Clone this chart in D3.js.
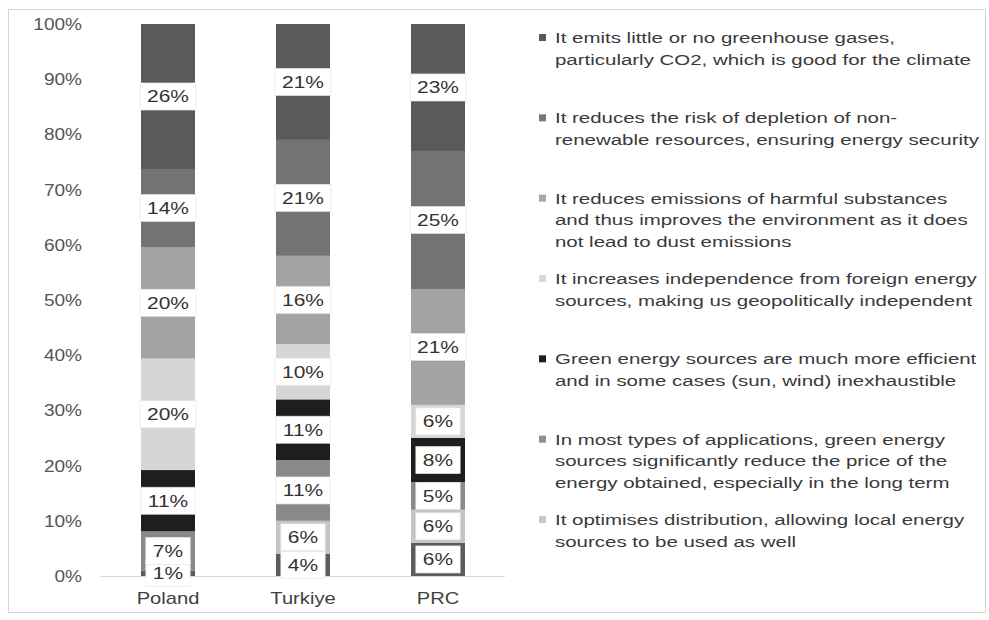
<!DOCTYPE html>
<html>
<head>
<meta charset="utf-8">
<script src="https://cdn.jsdelivr.net/npm/d3@7"></script>
<style>
  body { margin: 0; background: #fff; }
  svg { display: block; }
  text { font-family: "Liberation Sans", Arial, sans-serif; }
</style>
</head>
<body>
<svg id="chart" width="989" height="620"></svg>
<script>
// Countries on the x axis
const countries = ["Poland", "Turkiye", "PRC"];

// Share of answers per reason (top segment first), in %
const poland  = [26, 14, 20, 20, 11, 7, 0, 1];
const turkiye = [21, 21, 16, 10, 11, 11, 6, 4];
const prc     = [23, 25, 21, 6, 8, 5, 6, 6];

// Legend texts (one entry per reason, split into lines)
const reasons = [
  ["It emits little or no greenhouse gases,", "particularly CO2, which is good for the climate"],
  ["It reduces the risk of depletion of non-", "renewable resources, ensuring energy security"],
  ["It reduces emissions of harmful substances", "and thus improves the environment as it does", "not lead to dust emissions"],
  ["It increases independence from foreign energy", "sources, making us geopolitically independent"],
  ["Green energy sources are much more efficient", "and in some cases (sun, wind) inexhaustible"],
  ["In most types of applications, green energy", "sources significantly reduce the price of the", "energy obtained, especially in the long term"],
  ["It optimises distribution, allowing local energy", "sources to be used as well"]
];

// Y axis ticks
const yTicks = [0, 0.1, 0.2, 0.3, 0.4, 0.5, 0.6, 0.7, 0.8, 0.9, 1];

// Fill per series (same order as the values)
const colors = ["#5a5a5a", "#737373", "#a3a3a3", "#d6d6d6", "#1e1e1e", "#8a8a8a", "#c4c4c4", "#5c5c5c"];
const legendColors = ["#5a5a5a", "#787878", "#a8a8a8", "#d8d8d8", "#1e1e1e", "#8f8f8f", "#c8c8c8"];

const values = [poland, turkiye, prc];
const nSeries = poland.length;

const svg = d3.select("#chart");

// outer frame
svg.append("rect")
  .attr("x", 8.5).attr("y", 9.5).attr("width", 977).attr("height", 603)
  .attr("fill", "none").attr("stroke", "#d4d4d4");

const y = d3.scaleLinear().domain([0, 1]).range([576, 24]);
const x = d3.scaleBand().domain(countries).range([100.5, 505.5])
  .paddingInner(0.6).paddingOuter(0.3);

// helper: text stretched horizontally
function place(sel, tx, ty, sx) {
  return sel.attr("transform", (d, i) => `translate(${tx(d, i)},${ty(d, i)}) scale(${sx},1)`);
}

// rows for stacking
const rows = countries.map((c, i) => {
  const r = { country: c };
  values[i].forEach((v, j) => { r[j] = v; });
  return r;
});
const keys = d3.range(nSeries).reverse(); // bottom series first
const stacked = d3.stack().keys(keys).offset(d3.stackOffsetExpand)(rows);

// y tick labels
place(svg.append("g").selectAll("text").data(yTicks).join("text")
  .attr("text-anchor", "end")
  .attr("font-size", 16)
  .attr("fill", "#555")
  .text(d => d3.format(".0%")(d)),
  () => 82, d => y(d) + 6, 1.19);

// baseline
svg.append("line")
  .attr("x1", 100).attr("x2", 505)
  .attr("y1", y(0) + 0.5).attr("y2", y(0) + 0.5)
  .attr("stroke", "#d9d9d9");

// bars
svg.append("g").selectAll("g").data(stacked).join("g")
  .attr("fill", s => colors[s.key])
  .selectAll("rect").data(s => s).join("rect")
  .attr("x", d => x(d.data.country))
  .attr("width", x.bandwidth())
  .attr("y", d => y(d[1]))
  .attr("height", d => y(d[0]) - y(d[1]));

// value labels in white boxes
const labelScale = 1.27;
const labelG = svg.append("g");
stacked.forEach(s => {
  s.forEach(d => {
    const v = d.data[s.key];
    if (!v) return;
    const cx = x(d.data.country) + x.bandwidth() / 2;
    const cy = y((d[0] + d[1]) / 2);
    const g = labelG.append("g").attr("transform", `translate(${cx},${cy})`);
    const rect = g.append("rect");
    const t = g.append("text")
      .attr("text-anchor", "middle")
      .attr("dy", "0.36em")
      .attr("font-size", 16.5)
      .attr("fill", "#333")
      .attr("transform", `scale(${labelScale},1)`)
      .text(v + "%");
    const w = t.node().getComputedTextLength() * labelScale + 14;
    rect.attr("x", -w / 2).attr("y", -13.5).attr("width", w).attr("height", 27)
      .attr("fill", "#fff").attr("stroke", "#e6e6e6").attr("stroke-width", 0.7);
  });
});

// category labels
place(svg.append("g").selectAll("text").data(countries).join("text")
  .attr("text-anchor", "middle")
  .attr("font-size", 16)
  .attr("fill", "#404040")
  .text(d => d),
  d => x(d) + x.bandwidth() / 2, () => 604, 1.26);

// legend
const ly = d3.scalePoint().domain(d3.range(reasons.length)).range([43, 525]);
const lg = svg.append("g").selectAll("g").data(reasons).join("g")
  .attr("transform", (d, i) => `translate(0,${ly(i)})`);
lg.append("rect")
  .attr("x", 539).attr("y", -9).attr("width", 7).attr("height", 7)
  .attr("fill", (d, i) => legendColors[i]);
lg.append("text")
  .attr("font-size", 15.5)
  .attr("fill", "#3a3a3a")
  .attr("transform", "translate(555,0) scale(1.32,1)")
  .selectAll("tspan").data(d => d).join("tspan")
  .attr("x", 0)
  .attr("y", (d, i) => i * 21.6)
  .text(d => d);
</script>
</body>
</html>
